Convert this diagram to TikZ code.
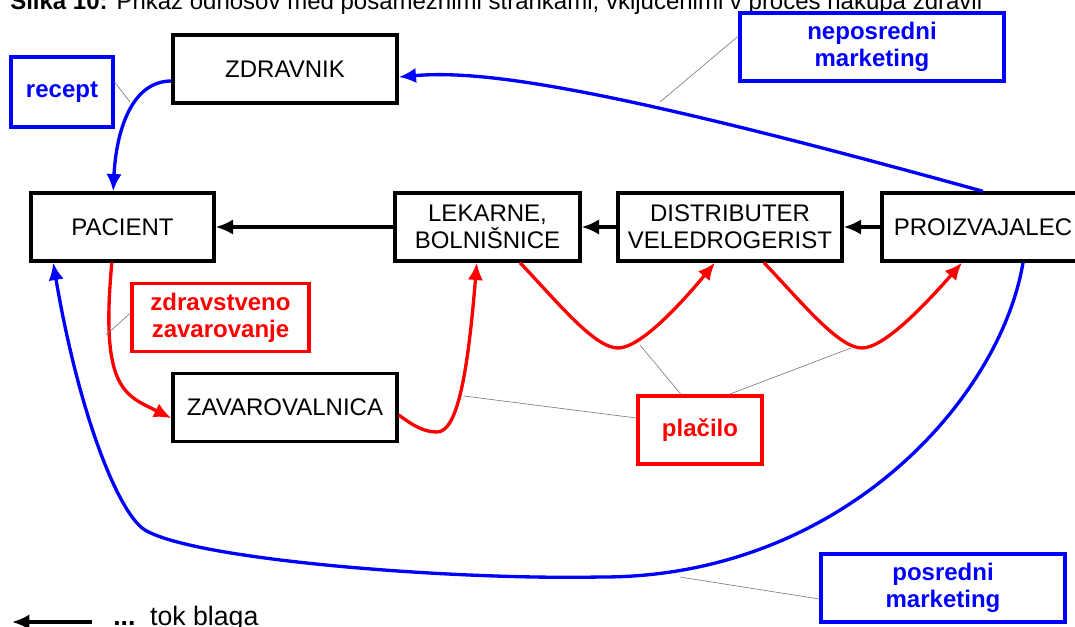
\documentclass[tikz,border=0pt]{standalone}
\usepackage{fontspec}
\setmainfont{Liberation Sans}
\usetikzlibrary{arrows.meta}

\begin{document}
\begin{tikzpicture}[x = 0.75pt, y = -0.75pt, > = {Latex[length = 13pt, width = 11.5pt]},
	font = \fontsize{18}{20}\selectfont,
	box/.style = {draw, line width = 2.5pt, minimum height = 51pt, inner sep = 0pt, align = center},
	tag/.style = {box, line width = 2.4pt, font = \fontsize{18}{20}\selectfont\bfseries},
	flow/.style = {line width = 2.5pt},
	leader/.style = {gray, line width = 0.5pt}]

	\useasboundingbox (0, 0) rectangle (1075, 626);

	% Caption (cut by the page edge)
	
	\node [anchor = base west, inner sep = 0pt] (caption) at (10, 9) {\textbf{Slika 10:} Prikaz odnosov med posameznimi strankami, vključenimi v proces nakupa zdravil};

	% Parties
	
	\node [box, minimum width = 168pt] (zdravnik) at (285, 69) {ZDRAVNIK};
	\node [box, minimum width = 137.25pt] (pacient) at (122.5, 227) {PACIENT};
	\node [box, minimum width = 138.75pt] (lekarne) at (487.5, 227) {LEKARNE,\\BOLNIŠNICE};
	\node [box, minimum width = 168pt] (distributer) at (730, 227) {DISTRIBUTER\\VELEDROGERIST};
	\node [box, minimum width = 151.5pt] (proizvajalec) at (983, 227) {PROIZVAJALEC};
	\node [box, minimum width = 168pt] (zavarovalnica) at (285, 407.5) {ZAVAROVALNICA};

	% Labels
	
	\node [tag, blue, minimum width = 76.5pt, minimum height = 52.5pt] (recept) at (62, 92) {recept};
	\node [tag, red, minimum width = 132.75pt] (zdravstveno) at (220.5, 317.5) {zdravstveno\\zavarovanje};
	\node [tag, red, minimum width = 93pt] (placilo) at (700, 430) {plačilo};
	\node [tag, blue, minimum width = 198pt] (neposredni) at (872, 47) {neposredni\\marketing};
	\node [tag, blue, minimum width = 183pt] (posredni) at (943, 588) {posredni\\marketing};

	% Flow of goods
	
	\draw [flow, ->] (proizvajalec) -- (distributer);
	\draw [flow, ->] (distributer) -- (lekarne);
	\draw [flow, ->] (lekarne) -- (pacient);

	% Prescription and marketing
	
	\draw [flow, blue, ->] ([yshift = -9pt] zdravnik.west) .. controls + (-40, 0) and + (3, -60) .. ([xshift = -7pt] pacient.north);
	\draw [flow, blue, ->] (proizvajalec.north) .. controls (600, 85) and (480, 70) .. ([yshift = -6pt] zdravnik.east);
	\draw [flow, blue, ->] ([xshift = 30pt] proizvajalec.south) .. controls (1000, 400) and (840, 578) .. (600, 577)
		.. controls (450, 580) and (195, 560) .. (145, 530)
		.. controls (120, 515) and (80, 420) .. ([xshift = -52pt] pacient.south);

	% Money
	
	\draw [flow, red, ->] ([xshift = -8pt] pacient.south) .. controls (100, 390) and (125, 395) .. ([yshift = -8pt] zavarovalnica.west);
	\draw [flow, red, ->] ([yshift = -5.6pt] zavarovalnica.east) .. controls (415, 427) and (425, 432) .. (437, 432)
		.. controls (458, 432) and (468, 370) .. ([xshift = -8pt] lekarne.south);
	\draw [flow, red, ->] ([xshift = 24.4pt] lekarne.south) .. controls (560, 305) and (595, 348) .. (618, 348)
		.. controls (640, 348) and (680, 305) .. ([xshift = -11.25pt] distributer.south);
	\draw [flow, red, ->] ([xshift = 25.5pt] distributer.south) .. controls (804, 305) and (839, 348) .. (862, 348)
		.. controls (884, 348) and (925, 305) .. ([xshift = -15.75pt] proizvajalec.south);

	% Leader lines
	
	\coordinate (recept tip) at (130, 102);
	\coordinate (zdravstveno tip) at (106, 335);
	\coordinate (placilo tip a) at (464, 396);
	\coordinate (placilo tip b) at (640, 345);
	\coordinate (placilo tip c) at (851, 348);
	\coordinate (neposredni tip) at (660, 102);
	\coordinate (posredni tip) at (680, 577);
	
	\draw [leader] ([yshift = 7.5pt] recept.east) -- (recept tip);
	\draw [leader] ([yshift = 3.4pt] zdravstveno.west) -- (zdravstveno tip);
	\draw [leader] ([yshift = 9pt] placilo.west) -- (placilo tip a);
	\draw [leader] ([xshift = -14.25pt] placilo.north) -- (placilo tip b);
	\draw [leader] ([xshift = 21.75pt] placilo.north) -- (placilo tip c);
	\draw [leader] ([yshift = 8.25pt] neposredni.west) -- (neposredni tip);
	\draw [leader] ([yshift = -8.25pt] posredni.west) -- (posredni tip);

	% Legend
	
	\coordinate (legend start) at (92, 622);
	\coordinate (legend end) at (12, 622);
	\draw [flow, ->] (legend start) -- (legend end);
	\node [anchor = base west, inner sep = 0pt, font = \fontsize{20}{22}\selectfont] (legend) at (113, 625) {\textbf{...}\hspace{11pt}tok blaga};
	
\end{tikzpicture}
\end{document}
